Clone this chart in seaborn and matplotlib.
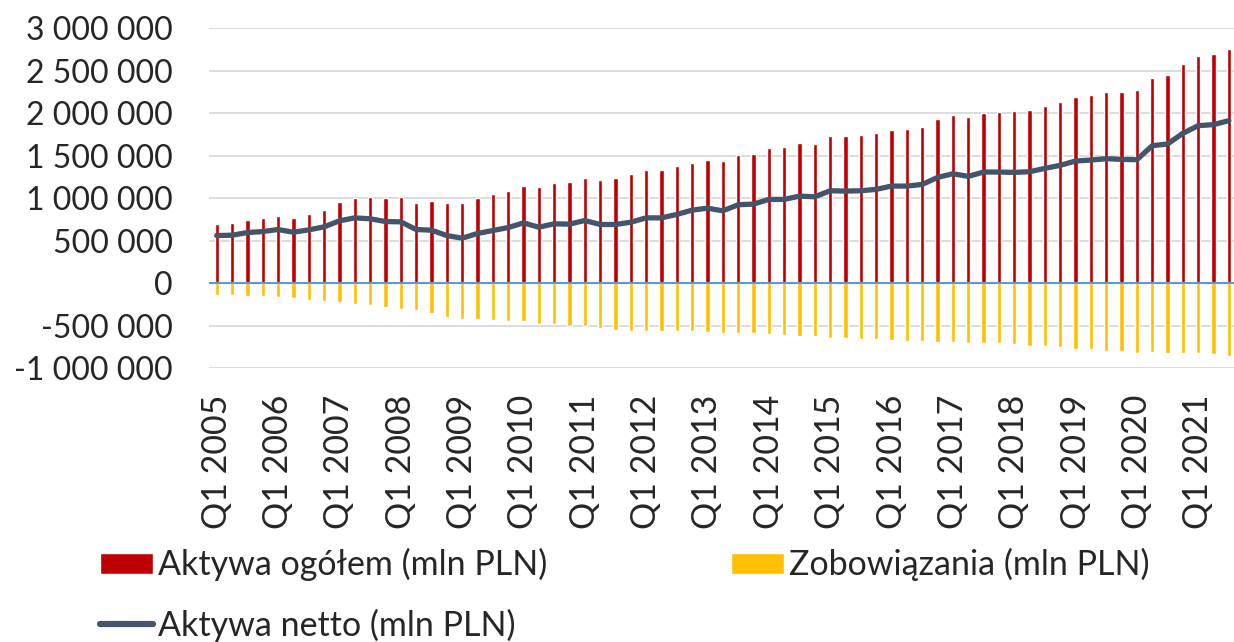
import numpy as np
import pandas as pd
import matplotlib
matplotlib.use("Agg")
import matplotlib.pyplot as plt
from matplotlib.patches import Patch
from matplotlib.lines import Line2D
from matplotlib.ticker import FuncFormatter
import seaborn as sns

years = list(range(2005, 2022))
quarters = [f"Q{q} {y}" for y in years for q in range(1, 5)][:67]

assets = [696, 708, 743, 763, 794, 774, 814, 861, 951, 1006, 1018, 1002, 1018, 943, 963, 947,
          947, 998, 1046, 1089, 1144, 1132,
          1183, 1195, 1234, 1211, 1242, 1285, 1333, 1333, 1380, 1415, 1454, 1435, 1506, 1517,
          1592, 1600, 1655, 1643, 1733, 1733, 1749, 1769, 1808,
          1820, 1840, 1934, 1977, 1954, 2005, 2013, 2024, 2040, 2087, 2134, 2197, 2217, 2252,
          2252, 2272, 2417, 2445, 2575, 2673, 2697, 2752]
liabilities = [-138, -138, -149, -153, -161, -177, -193, -208, -224, -240, -259, -279, -303, -318,
               -346, -397, -421, -421, -432, -444, -448, -476,
               -480, -499, -499, -523, -554, -558, -558, -562, -562, -562, -574, -582, -586, -586,
               -597, -605, -621, -621, -641, -649, -653, -656, -664,
               -676, -680, -692, -696, -700, -708, -708, -719, -735, -743, -755, -770, -778, -798,
               -802, -822, -810, -818, -818, -825, -829, -853]
net = [562, 566, 597, 609, 633, 601, 629, 664, 735, 770, 759, 727, 723, 633, 625, 562, 531, 586,
       621, 656, 711, 660,
       700, 696, 739, 692, 692, 719, 770, 770, 810, 861, 884, 853, 924, 932, 987, 987, 1026,
       1018, 1089, 1085, 1089, 1105, 1144,
       1144, 1163, 1246, 1289, 1258, 1309, 1309, 1305, 1313, 1352, 1388, 1439, 1450, 1466, 1458,
       1454, 1619, 1639, 1765, 1855, 1867, 1914]

assets = [v * 1000 for v in assets]
liabilities = [v * 1000 for v in liabilities]
net = [v * 1000 for v in net]

labels = ["Aktywa ogółem (mln PLN)", "Zobowiązania (mln PLN)", "Aktywa netto (mln PLN)"]
colors = ["#C00000", "#FFC000", "#44546A"]

df = pd.DataFrame({"q": quarters, "assets": assets, "liab": liabilities, "net": net,
                   "idx": np.arange(len(quarters))})

sns.set_theme(style="white")
plt.rcParams["font.family"] = ["Lato", "DejaVu Sans"]
FS = 23

fig = plt.figure(figsize=(12.34, 6.42), dpi=100)
ax = fig.add_axes([0.1694, 0.4263, 0.8327, 0.5296])

sns.barplot(data=df, x="q", y="assets", color=colors[0], width=0.28, saturation=1,
            ax=ax, zorder=2)
sns.barplot(data=df, x="q", y="liab", color=colors[1], width=0.28, saturation=1,
            ax=ax, zorder=2)
ax.axhline(0, color="#5B9BD5", lw=1.5, zorder=3)
sns.lineplot(data=df, x="idx", y="net", color=colors[2], lw=3.8, ax=ax, zorder=4,
             solid_capstyle="round", solid_joinstyle="round")

ax.set_xlim(-0.5, len(quarters) - 0.5)
ax.set_ylim(-1_000_000, 3_000_000)
ax.set_yticks(np.arange(-1_000_000, 3_000_001, 500_000))
ax.yaxis.set_major_formatter(FuncFormatter(lambda v, p: f"{int(round(v)):,}".replace(",", " ")))
ax.grid(axis="y", color="#D9D9D9", lw=1.3, zorder=0)
ax.set_axisbelow(True)
for s in ax.spines.values():
    s.set_visible(False)

ticks = list(range(0, len(quarters), 4))
ax.set_xticks(ticks)
ax.set_xticklabels([quarters[i] for i in ticks], rotation=90, fontsize=24.5)
ax.tick_params(axis="x", length=0, pad=19)
ax.tick_params(axis="y", length=0, pad=26, labelsize=FS)
ax.set_xlabel("")
ax.set_ylabel("")

handles = [Patch(facecolor=colors[0]), Line2D([], [], color=colors[2], lw=4.5,
                                               solid_capstyle="round"),
           Patch(facecolor=colors[1])]
hl = [labels[0], labels[2], labels[1]]
fig.legend(handles, hl, loc="upper left", bbox_to_anchor=(0.081, 0.146), ncol=2,
           frameon=False, fontsize=24.5, handlelength=1.55, handleheight=0.59,
           handletextpad=0.15, columnspacing=5.4, labelspacing=0.8, borderpad=0,
           borderaxespad=0)

fig.savefig("out.png", dpi=100)
